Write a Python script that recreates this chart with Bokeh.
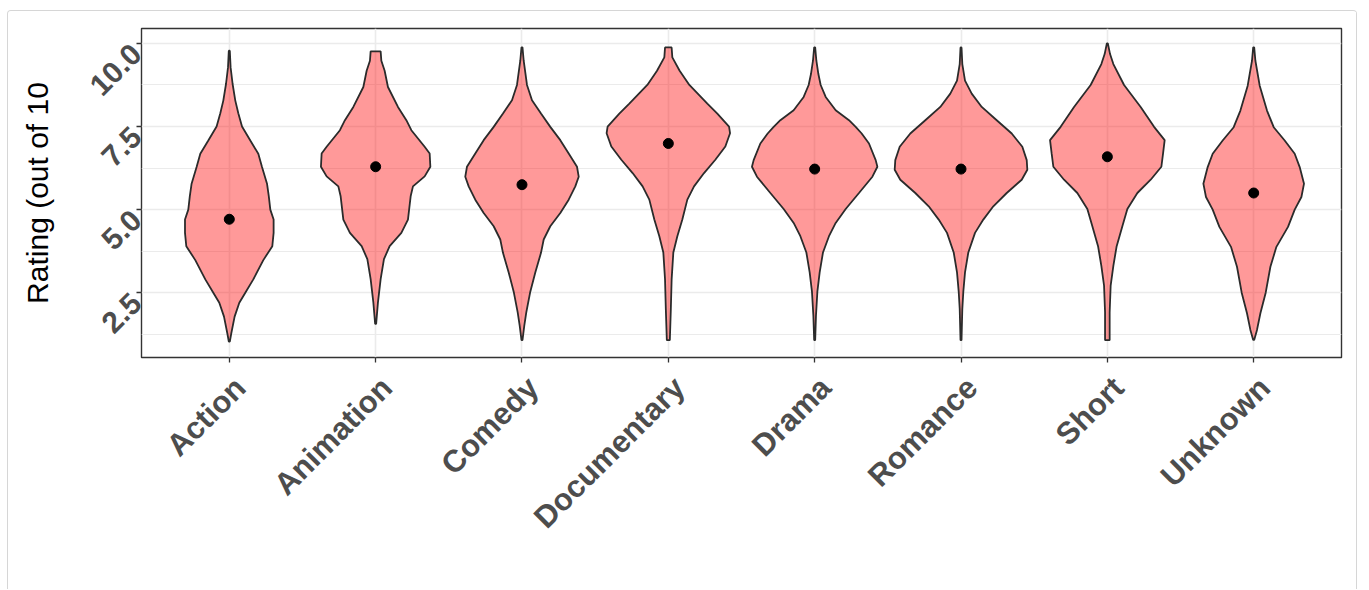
import math
from bokeh.plotting import figure
from bokeh.models import Range1d, FixedTicker, LinearAxis
from bokeh.embed import file_html
from bokeh.resources import INLINE

# ---------------- data ----------------
genres = ["Action", "Animation", "Comedy", "Documentary", "Drama", "Romance", "Short", "Unknown"]
medians = [4.71, 6.29, 5.75, 6.99, 6.22, 6.22, 6.59, 5.50]

# violin outlines: rating levels and density (half-width, arbitrary units)
action_r = [1.03, 1.28, 1.78, 2.20, 2.50, 2.90, 3.48, 3.90, 4.30, 4.70, 5.00, 5.40, 5.78, 6.28, 6.68, 7.08, 7.50, 7.90, 8.28, 8.78, 9.28, 9.78]
action_d = [0.5, 2.0, 5.3, 10.0, 16.0, 24.0, 34.0, 43.0, 44.3, 44.3, 41.0, 39.5, 37.7, 32.7, 29.0, 21.0, 12.7, 9.0, 6.0, 3.3, 1.3, 0.5]

animation_r = [1.56, 2.21, 2.91, 3.51, 3.90, 4.30, 4.70, 5.40, 5.70, 6.00, 6.29, 6.69, 6.89, 7.39, 7.69, 8.09, 8.69, 9.18, 9.48, 9.76]
animation_d = [0.5, 2.3, 5.0, 8.3, 14.0, 25.7, 32.3, 35.0, 37.3, 49.0, 54.7, 54.0, 49.0, 35.7, 30.7, 22.3, 12.3, 9.0, 5.7, 5.0]

comedy_r = [1.07, 1.51, 1.91, 2.53, 3.11, 3.70, 4.10, 4.50, 4.90, 5.30, 5.70, 5.99, 6.29, 6.69, 7.09, 7.49, 7.89, 8.29, 8.75, 9.48, 9.88]
comedy_d = [0.5, 2.3, 4.3, 8.3, 13.3, 19.0, 21.7, 28.3, 38.3, 46.7, 53.3, 56.7, 55.0, 46.7, 38.3, 28.3, 19.0, 10.0, 5.0, 1.7, 0.5]

documentary_r = [1.07, 2.00, 2.90, 3.71, 4.20, 4.70, 5.30, 5.70, 6.10, 6.50, 6.90, 7.30, 7.50, 7.89, 8.19, 8.75, 9.18, 9.58, 9.88]
documentary_d = [1.5, 2.5, 3.3, 5.0, 9.0, 14.0, 19.0, 25.7, 35.7, 47.0, 57.0, 61.7, 60.7, 49.0, 39.0, 21.0, 11.3, 4.0, 3.3]

drama_r = [1.07, 1.81, 2.53, 3.11, 3.71, 4.20, 4.60, 5.02, 5.50, 5.99, 6.29, 6.49, 6.99, 7.29, 7.49, 7.69, 7.99, 8.39, 8.75, 9.08, 9.48, 9.88]
drama_d = [0.5, 1.3, 2.7, 5.0, 8.3, 14.3, 21.0, 31.0, 44.3, 57.7, 62.7, 61.0, 54.3, 47.0, 41.0, 34.3, 21.0, 11.0, 6.0, 3.7, 1.7, 0.5]

romance_r = [1.07, 2.01, 2.53, 3.11, 3.71, 4.30, 4.70, 5.10, 5.50, 5.90, 6.20, 6.49, 6.89, 7.29, 7.69, 8.09, 8.49, 8.88, 9.38, 9.88]
romance_d = [0.5, 1.3, 2.3, 4.0, 7.3, 14.0, 22.3, 32.3, 45.7, 60.7, 66.3, 65.7, 61.3, 50.7, 35.7, 20.7, 10.7, 4.0, 1.3, 0.5]

short_r = [1.07, 1.91, 2.71, 3.31, 3.90, 4.50, 5.02, 5.50, 5.90, 6.29, 6.69, 7.09, 7.49, 8.09, 8.75, 9.38, 9.68, 10.0]
short_d = [2.3, 2.3, 3.3, 6.0, 9.3, 15.0, 20.0, 30.0, 43.3, 54.0, 55.7, 57.3, 46.7, 33.3, 16.7, 6.0, 2.7, 0.5]

unknown_r = [1.08, 1.38, 1.88, 2.50, 3.28, 3.88, 4.48, 5.00, 5.38, 5.78, 6.28, 6.68, 7.08, 7.48, 7.98, 8.73, 9.48, 9.88]
unknown_d = [0.5, 3.3, 6.7, 12.0, 16.7, 22.7, 34.3, 41.0, 47.7, 50.3, 46.0, 41.0, 31.0, 20.0, 13.3, 6.0, 1.7, 0.5]

y_ticks = [2.5, 5.0, 7.5, 10.0]
y_tick_labels = ["2.5", "5.0", "7.5", "10.0"]
y_minor = [1.25, 3.75, 6.25, 8.75]
y_label = "Rating (out of 10"

profiles = [(action_r, action_d), (animation_r, animation_d), (comedy_r, comedy_d),
            (documentary_r, documentary_d), (drama_r, drama_d), (romance_r, romance_d),
            (short_r, short_d), (unknown_r, unknown_d)]

DENSITY_SCALE = 1.0 / 146.3   # density units -> category width units
X_LABEL_SHIFT = 0.075         # rotated label anchor offsets (ggplot-like justification)
Y_LABEL_SHIFT = -0.17

# ---------------- figure ----------------
p = figure(width=1350, height=579, output_backend="svg", toolbar_location=None,
           x_range=Range1d(0.4, 8.6), y_range=Range1d(0.55, 10.45),
           x_axis_location=None, y_axis_location=None,
           min_border_left=133, min_border_right=17, min_border_top=17, min_border_bottom=233)
p.styles = {"margin-left": "7px", "margin-top": "10px",
            "border-top": "1px solid #d6d6d6", "border-left": "1px solid #d6d6d6",
            "border-right": "1px solid #d6d6d6", "border-radius": "4px 4px 0 0"}
p.background_fill_color = "white"
p.border_fill_color = "white"
p.outline_line_color = "#333333"
p.outline_line_width = 1.4

positions = list(range(1, len(genres) + 1))

xs, ys = [], []
for pos, (r, d) in zip(positions, profiles):
    left = [pos - v * DENSITY_SCALE for v in d]
    right = [pos + v * DENSITY_SCALE for v in d]
    xs.append(left + right[::-1])
    ys.append(list(r) + list(r)[::-1])

p.patches(xs, ys, fill_color="red", fill_alpha=0.4, line_color="#2b2b2b", line_width=1.8)
p.scatter(positions, medians, size=10, color="black")

# grid
p.xgrid.ticker = FixedTicker(ticks=positions)
p.xgrid.grid_line_color = "#EBEBEB"
p.xgrid.grid_line_width = 1.6
p.ygrid.ticker = FixedTicker(ticks=y_ticks, minor_ticks=y_minor)
p.ygrid.grid_line_color = "#EBEBEB"
p.ygrid.grid_line_width = 1.6
p.ygrid.minor_grid_line_color = "#EBEBEB"
p.ygrid.minor_grid_line_width = 1.1
p.grid.level = "underlay"


def style_axis(ax):
    ax.axis_line_color = None
    ax.major_tick_line_color = "#333333"
    ax.major_tick_line_width = 1.3
    ax.major_tick_out = 5
    ax.major_tick_in = 0
    ax.minor_tick_line_color = None
    ax.major_label_text_font = "Liberation Sans"
    ax.major_label_text_font_style = "bold"
    ax.major_label_text_color = "#4D4D4D"
    ax.major_label_orientation = math.pi / 4


def ticks_only_axis(ticks):
    ax = LinearAxis(ticker=FixedTicker(ticks=ticks))
    style_axis(ax)
    ax.major_label_overrides = {t: "" for t in ticks}
    ax.major_label_text_font_size = "0px"
    ax.major_label_standoff = 0
    return ax


def labels_only_axis(ticks, labels, size, standoff):
    ax = LinearAxis(ticker=FixedTicker(ticks=ticks))
    style_axis(ax)
    ax.major_tick_line_color = None
    ax.major_tick_out = 0
    ax.major_label_overrides = {t: s for t, s in zip(ticks, labels)}
    ax.major_label_text_font_size = size
    ax.major_label_standoff = standoff
    return ax


# x axis
p.add_layout(ticks_only_axis(positions), "below")
x_label_pos = [pos + X_LABEL_SHIFT for pos in positions]
p.add_layout(labels_only_axis(x_label_pos, genres, "31px", 20), "below")

# y axis
p.add_layout(ticks_only_axis(y_ticks), "left")
y_label_pos = [t + Y_LABEL_SHIFT for t in y_ticks]
y_lab_axis = labels_only_axis(y_label_pos, y_tick_labels, "30px", 0)
y_lab_axis.axis_label = y_label
y_lab_axis.axis_label_text_font = "Liberation Sans"
y_lab_axis.axis_label_text_font_style = "normal"
y_lab_axis.axis_label_text_font_size = "30px"
y_lab_axis.axis_label_text_color = "black"
y_lab_axis.axis_label_standoff = 24
p.add_layout(y_lab_axis, "left")

open("out.html", "w").write(file_html(p, INLINE))
